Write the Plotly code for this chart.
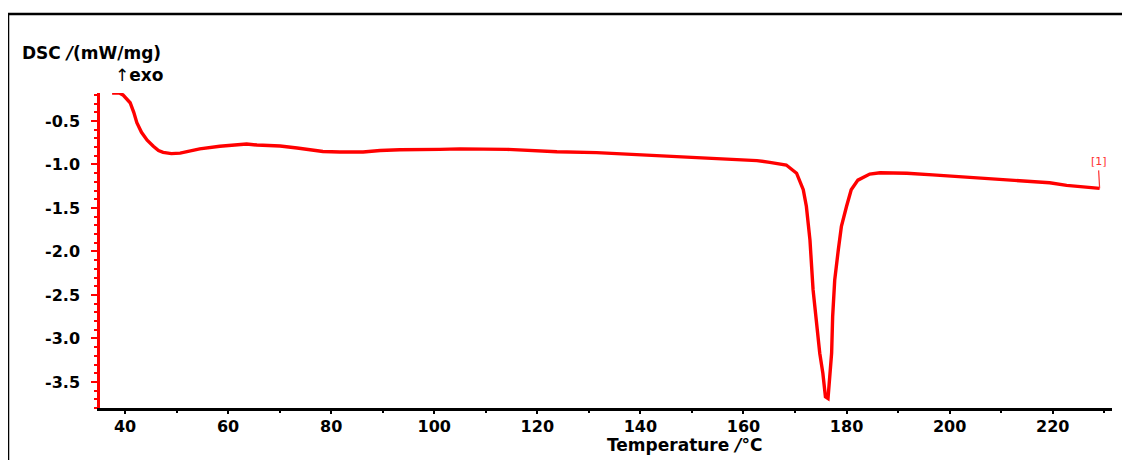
import plotly.graph_objects as go

# DSC curve
temperature = [37.5, 39.0, 39.6, 40.3, 41.0, 41.7, 42.3, 43.2, 44.3, 45.5, 46.5, 47.4, 49.0,
               50.7, 52.5, 54.5, 58.4, 61.0, 63.6, 65.6, 70.1, 73.4, 76.5, 78.4, 81.7,
               86.2, 89.5, 93.3, 101.1, 105.0, 114.1, 119.0, 123.8, 131.5, 137.9, 145.1,
               150.9, 157.3, 162.6, 165.1, 166.6, 168.3, 170.3, 171.6, 172.2, 172.9,
               173.5, 174.2, 174.8, 175.4, 175.9, 176.4, 176.7, 177.1, 177.3, 177.7,
               178.4, 179.0, 180.0, 180.9, 182.2, 184.5, 186.5, 188.4, 191.7, 196.7,
               201.4, 206.4, 211.1, 216.9, 219.4, 222.7, 227.2, 229.1]
dsc = [-0.18, -0.18, -0.20, -0.24, -0.29, -0.40, -0.52, -0.63, -0.72, -0.79, -0.84, -0.86, -0.875,
       -0.87, -0.85, -0.82, -0.79, -0.775, -0.765, -0.776, -0.787, -0.81, -0.833, -0.85, -0.856,
       -0.856, -0.84, -0.83, -0.826, -0.82, -0.826, -0.84, -0.853, -0.864, -0.883, -0.898,
       -0.918, -0.937, -0.956, -0.975, -0.986, -1.006, -1.10, -1.29, -1.48, -1.87,
       -2.44, -2.86, -3.17, -3.40, -3.67, -3.69, -3.48, -3.17, -2.75, -2.33,
       -1.98, -1.71, -1.48, -1.29, -1.18, -1.11, -1.095, -1.094, -1.10, -1.12,
       -1.14, -1.16, -1.18, -1.205, -1.21, -1.24, -1.27, -1.275]

x_range = [35.15, 231.5]
y_range = [-3.80, -0.178]
x_ticks = [40, 60, 80, 100, 120, 140, 160, 180, 200, 220]
y_ticks = [-3.5, -3.0, -2.5, -2.0, -1.5, -1.0, -0.5]
y_ticktext = ["-3.5", "-3.0", "-2.5", "-2.0", "-1.5", "-1.0", "-0.5"]

RED = "#ff0000"
FONT = "DejaVu Sans"
TICKFONT = dict(family=FONT, size=16, color="black", weight="bold")
TITLEFONT = dict(family=FONT, size=17, color="black", weight="bold")

fig = go.Figure()
fig.add_trace(go.Scatter(x=temperature, y=dsc, mode="lines",
                         line=dict(color=RED, width=3.4), hoverinfo="skip",
                         showlegend=False))

# page has an 8px body margin, so the figure starts at (8, 8)
fig.update_layout(
    width=1114, height=452,
    margin=dict(l=92, r=10, t=85, b=52),
    paper_bgcolor="white", plot_bgcolor="white",
    font=TICKFONT,
    xaxis=dict(range=x_range, tickvals=x_ticks, showgrid=False, zeroline=False,
               showline=True, linecolor="black", linewidth=2.5,
               ticks="outside", ticklen=3, tickwidth=2, tickcolor="black",
               minor=dict(dtick=10, tick0=0, ticklen=2, tickwidth=2, tickcolor="black", ticks="outside"),
               tickfont=TICKFONT, ticklabelstandoff=-1),
    yaxis=dict(range=y_range, tickvals=y_ticks, ticktext=y_ticktext, showgrid=False, zeroline=False,
               showline=True, linecolor=RED, linewidth=2.5,
               ticks="outside", ticklen=6, tickwidth=2, tickcolor=RED,
               minor=dict(dtick=0.1, tick0=0, ticklen=3, tickwidth=1.5, tickcolor=RED, ticks="outside"),
               tickfont=TICKFONT, ticklabelstandoff=8),
)

# axis titles as positioned text
fig.add_annotation(xref="paper", yref="paper", x=-0.079, y=1.127, xanchor="left", yanchor="middle",
                   text="DSC <i>/</i>(mW/mg)", showarrow=False, font=TITLEFONT)
fig.add_annotation(xref="paper", yref="paper", x=0.0128, y=1.057, xanchor="left", yanchor="middle",
                   text="<span style='font-weight:normal'>↑</span>exo", showarrow=False, font=TITLEFONT)
fig.add_annotation(xref="paper", yref="paper", x=0.499, y=-0.1175, xanchor="left", yanchor="middle",
                   text="Temperature <i>/</i>°C", showarrow=False, font=TITLEFONT)

# curve label at the last point
fig.add_annotation(x=temperature[-1], y=dsc[-1], text="[1]", showarrow=True, arrowhead=0,
                   arrowwidth=1.2, arrowcolor="#ff3030", ax=-1, ay=-18, yanchor="bottom",
                   font=dict(family=FONT, size=11, color="#ff3030", weight="normal"))

# outer frame (top and left edges visible)
fig.add_shape(type="line", xref="paper", yref="paper", x0=-0.0909, x1=1.03, y0=1.251, y1=1.251,
              line=dict(color="black", width=2.5))
fig.add_shape(type="line", xref="paper", yref="paper", x0=-0.0909, x1=-0.0909, y0=1.251, y1=-0.2,
              line=dict(color="black", width=2.5))

fig.write_html("out.html")
